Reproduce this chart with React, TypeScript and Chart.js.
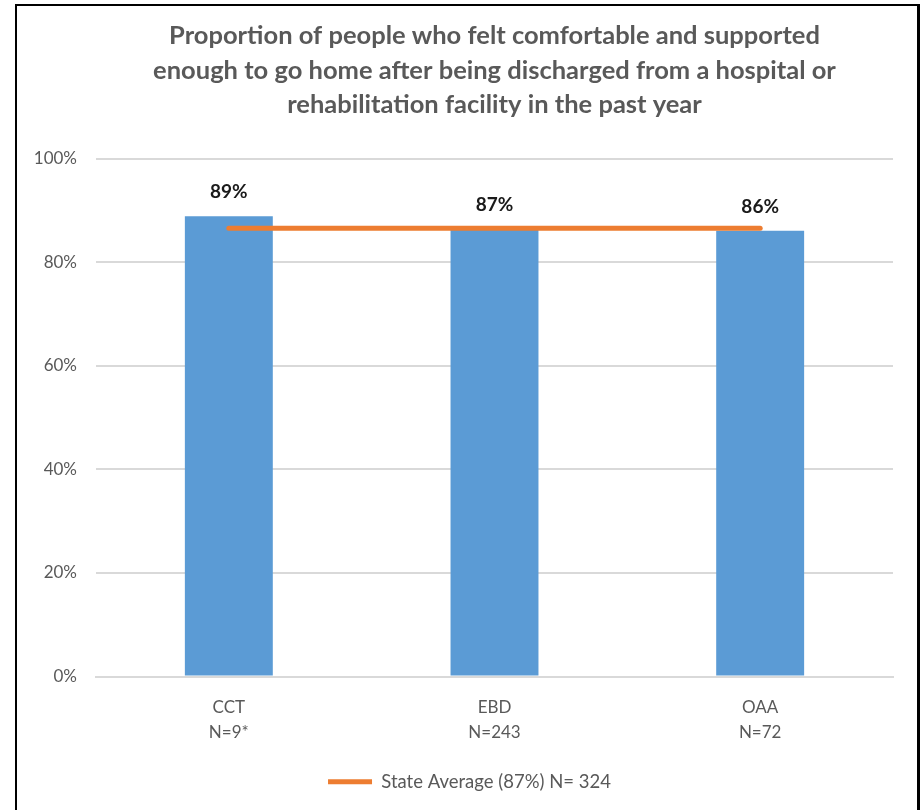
import React, { useEffect, useRef } from "react";
import { Chart, registerables } from "chart.js";

Chart.register(...registerables);

const categories: string[][] = [["CCT", "N=9*"], ["EBD", "N=243"], ["OAA", "N=72"]];
const proportionValues: number[] = [88.9, 86.5, 86.1];
const stateAverageValue = 86.6;
const stateAverageLabel = "State Average (87%) N= 324";
const titleLines: string[] = [
  "Proportion of people who felt comfortable and supported",
  "enough to go home after being discharged from a hospital or",
  "rehabilitation facility in the past year",
];
const yTicks = { min: 0, max: 100, step: 20 };

const FONT = "Lato, 'Open Sans', sans-serif";
const GRAY = "#595959";

const barLabelPlugin = {
  id: "barLabels",
  afterDatasetsDraw(chart: any) {
    const ctx = chart.ctx;
    const meta = chart.getDatasetMeta(1);
    ctx.save();
    ctx.font = `bold 19px ${FONT}`;
    ctx.fillStyle = "#1a1a1a";
    ctx.textAlign = "center";
    ctx.textBaseline = "middle";
    meta.data.forEach((el: any, i: number) => {
      const v = chart.data.datasets[1].data[i] as number;
      ctx.fillText(Math.round(v) + "%", el.x, el.y - 24);
    });
    ctx.restore();
  },
};

// nudge the legend box so it sits where the original's legend sits
const legendShiftPlugin = {
  id: "legendShift",
  beforeDraw(chart: any) {
    const lg = chart.legend;
    if (lg && !lg._shifted) {
      lg.left += 15;
      lg.right += 15;
      lg._shifted = true;
    }
  },
  afterLayout(chart: any) {
    if (chart.legend) chart.legend._shifted = false;
  },
};

export default function App() {
  const ref = useRef<HTMLCanvasElement | null>(null);
  useEffect(() => {
    if (!ref.current) return;
    const chart = new Chart(ref.current, {
      type: "bar",
      data: {
        labels: categories,
        datasets: [
          {
            type: "line",
            label: stateAverageLabel,
            data: categories.map(() => stateAverageValue),
            borderColor: "#ED7D31",
            backgroundColor: "#ED7D31",
            borderWidth: 5,
            borderCapStyle: "round",
            pointRadius: 0,
            pointHoverRadius: 0,
            pointStyle: "line",
            order: 0,
          } as any,
          {
            type: "bar",
            label: "Proportion",
            data: proportionValues,
            backgroundColor: "#5B9BD5",
            categoryPercentage: 1,
            barPercentage: 0.331,
            order: 1,
          } as any,
        ],
      },
      options: {
        responsive: false,
        animation: false,
        layout: { padding: { left: 16, right: 31, top: 0, bottom: 9 } },
        plugins: {
          title: {
            display: true,
            fullSize: false,
            text: titleLines,
            color: GRAY,
            font: { family: FONT, size: 25.5, weight: "bold", lineHeight: 1.35 },
            padding: { top: 19, bottom: 36.5 },
          },
          legend: {
            display: true,
            position: "bottom",
            labels: {
              filter: (item: any) => item.datasetIndex === 0,
              usePointStyle: true,
              pointStyleWidth: 44,
              color: GRAY,
              font: { family: FONT, size: 18.5 },
              padding: 10,
            },
          },
          tooltip: { enabled: false },
        },
        scales: {
          x: {
            grid: { display: false, drawTicks: false },
            border: { display: true, color: "#d9d9d9", width: 2 },
            ticks: {
              color: GRAY,
              font: { family: FONT, size: 17, lineHeight: 1.5 },
              padding: 18,
              maxRotation: 0,
            },
            afterFit: (s: any) => {
              s.height = 86;
            },
          },
          y: {
            min: yTicks.min,
            max: yTicks.max,
            grid: { color: "#d9d9d9", lineWidth: 2, drawTicks: false },
            border: { display: false },
            ticks: {
              stepSize: yTicks.step,
              color: GRAY,
              font: { family: FONT, size: 17 },
              padding: 19,
              callback: (v: any) => v + "%",
            },
            afterFit: (s: any) => {
              s.width = 80;
            },
          },
        },
      },
      plugins: [barLabelPlugin, legendShiftPlugin],
    } as any);
    return () => chart.destroy();
  }, []);

  return (
    <>
      <canvas
        ref={ref}
        width={924}
        height={810}
        style={{ position: "fixed", left: 0, top: 0, width: 924, height: 810 }}
      />
      <div
        style={{
          position: "fixed",
          left: 15,
          top: 4,
          width: 905,
          height: 900,
          boxSizing: "border-box",
          borderLeft: "2px solid #000",
          borderTop: "2px solid #000",
          borderRight: "3px solid #000",
          pointerEvents: "none",
        }}
      />
    </>
  );
}
